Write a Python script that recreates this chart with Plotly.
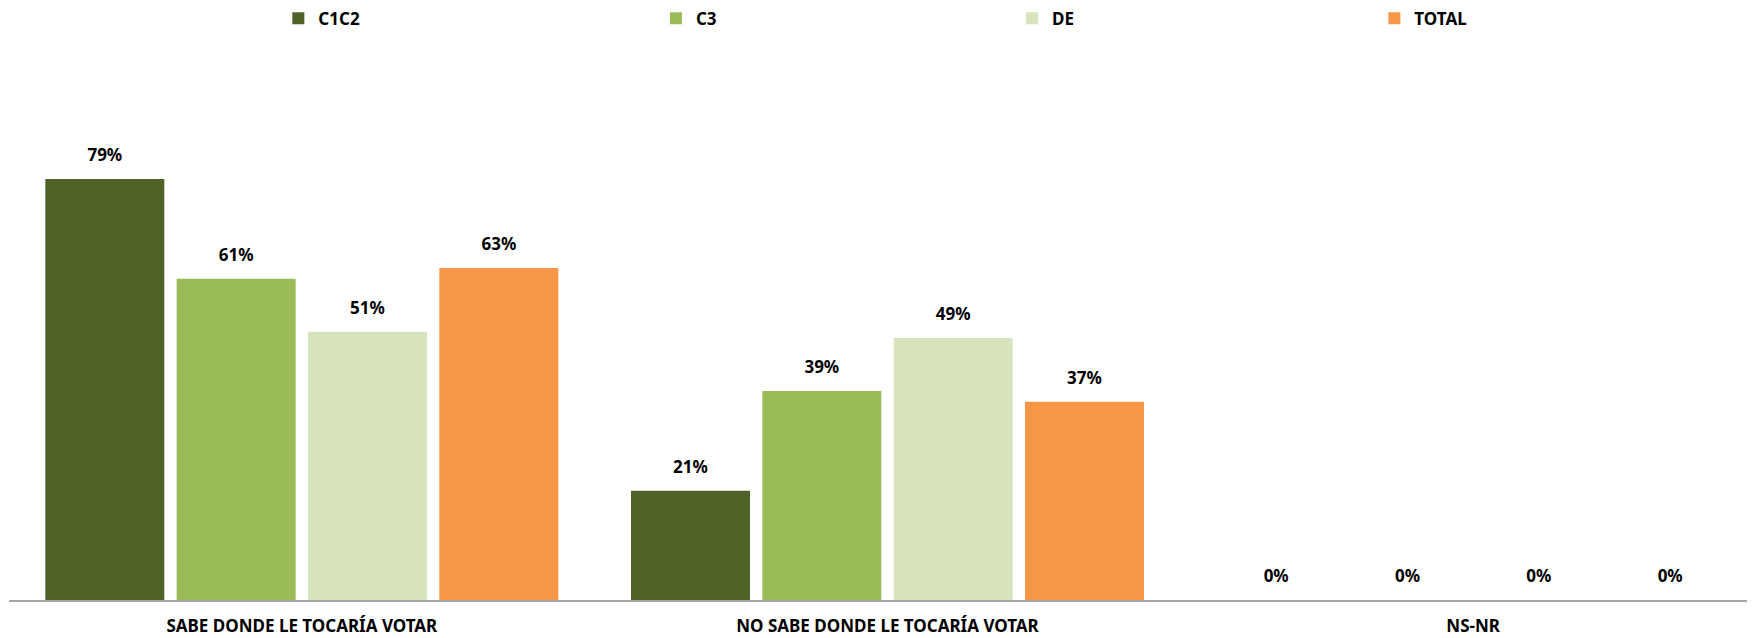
import plotly.graph_objects as go

categories = ["SABE DONDE LE TOCARÍA VOTAR", "NO SABE DONDE LE TOCARÍA VOTAR", "NS-NR"]
series_names = ["C1C2", "C3", "DE", "TOTAL"]
c1c2 = [0.794, 0.206, 0.0]
c3 = [0.606, 0.394, 0.0]
de = [0.506, 0.494, 0.0]
total = [0.626, 0.374, 0.0]
colors = ["#4F6228", "#9BBB59", "#D7E4BD", "#F79646"]

values = [c1c2, c3, de, total]
FONT = "Noto Sans"
legend_ids = ["legend", "legend2", "legend3", "legend4"]
legend_x = [0.1533, 0.3682, 0.5709, 0.7771]

fig = go.Figure()
for name, vals, col, lid in zip(series_names, values, colors, legend_ids):
    fig.add_trace(go.Bar(
        x=categories, y=vals, name=name, marker_color=col,
        offsetgroup=name, marker_line_width=0, legend=lid,
    ))
for name, vals in zip(series_names, values):
    fig.add_trace(go.Scatter(
        x=categories, y=vals, mode="markers+text", offsetgroup=name,
        text=[f"{round(v*100)}%" for v in vals], textposition="top center",
        textfont=dict(family=FONT, size=17, color="#000000", weight="bold"),
        marker=dict(size=20, opacity=0), showlegend=False, hoverinfo="skip",
        cliponaxis=False,
    ))

legend_common = dict(
    orientation="h", yref="container", y=1 - 10.7 / 630, yanchor="middle",
    xanchor="left", font=dict(family=FONT, size=17, weight="bold", color="#000000"),
    bgcolor="rgba(0,0,0,0)", borderwidth=0,
)
fig.update_layout(
    width=1760, height=630,
    paper_bgcolor="white", plot_bgcolor="white",
    margin=dict(l=1, r=2, t=55, b=38),
    barmode="group", bargap=0.103, bargroupgap=0.094,
    scattermode="group", scattergap=0.103,
    font=dict(family=FONT, size=17, color="#000000"),
    showlegend=True,
)
for lid, lx in zip(legend_ids, legend_x):
    fig.update_layout({lid: dict(legend_common, x=lx)})

fig.update_xaxes(
    showline=True, linecolor="#A6A6A6", linewidth=2, ticks="",
    tickfont=dict(family=FONT, size=17, weight="bold", color="#000000"),
    ticklabelstandoff=10, automargin=False, showgrid=False,
)
fig.update_yaxes(range=[0, 1.0129], visible=False, showgrid=False, automargin=False)

fig.write_html("out.html")
